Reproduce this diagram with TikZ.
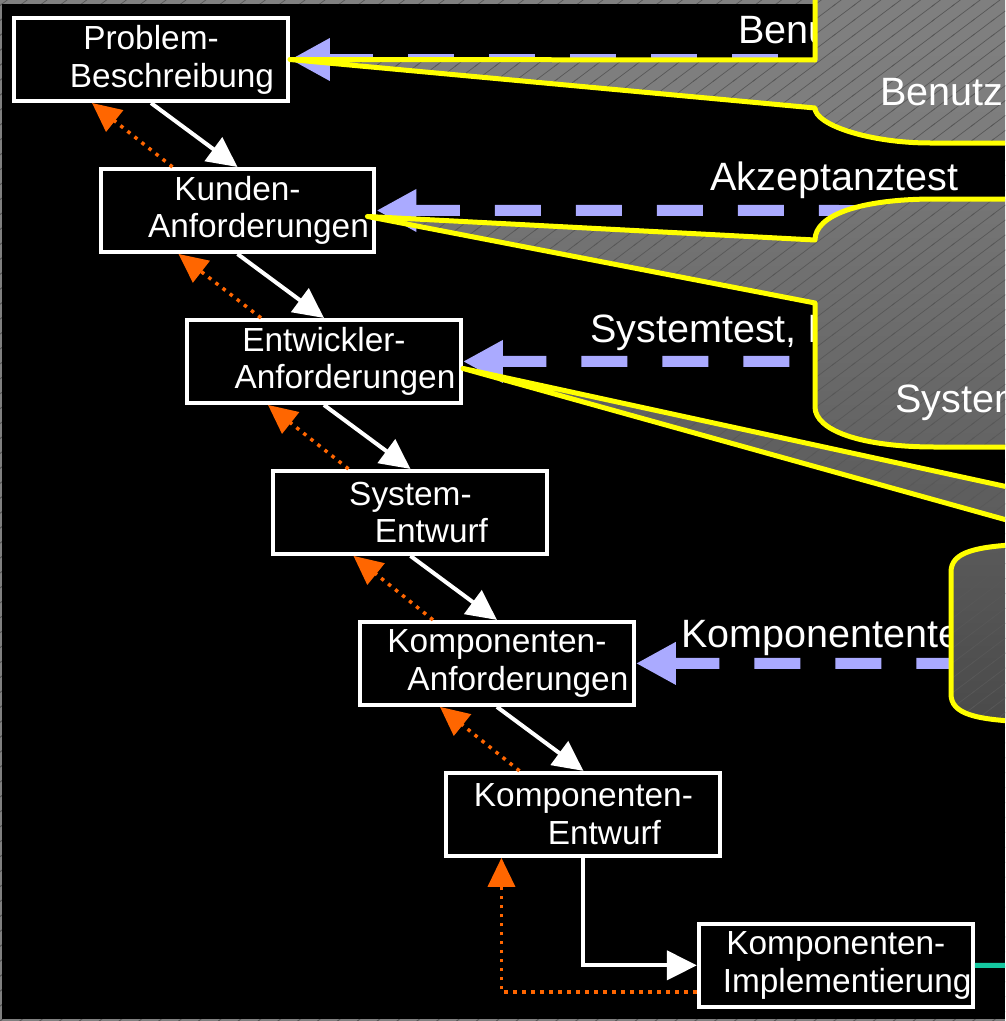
\documentclass[tikz,border=0pt]{standalone}
\usepackage{fontspec}
\setmainfont{Liberation Sans}
\usetikzlibrary{arrows.meta, positioning, calc, patterns}

\definecolor{lavender}{RGB}{170,170,255}
\definecolor{dotorange}{RGB}{255,102,0}
\definecolor{bubbleyellow}{RGB}{255,255,0}
\definecolor{hatchgray}{RGB}{88,88,88}
\definecolor{framegray}{RGB}{128,128,128}
\definecolor{tealline}{RGB}{20,200,160}

\pgfdeclarepatternformonly{hatch}{\pgfqpoint{-1pt}{-1pt}}{\pgfqpoint{12.3pt}{9.5pt}}{\pgfqpoint{11.3pt}{8.5pt}}{%
  \pgfsetlinewidth{0.4pt}%
  \pgfpathmoveto{\pgfqpoint{-1.13pt}{-0.85pt}}%
  \pgfpathlineto{\pgfqpoint{12.43pt}{9.35pt}}%
  \pgfusepath{stroke}}

\begin{document}
\begin{tikzpicture}[
        x=0.02cm, y=-0.02cm,
        node distance=1.28cm,
        box/.style={rectangle, draw=white, line width=0.08cm, fill=black, text=white, minimum width=5.48cm, minimum height=1.66cm, text width=5.48cm, inner xsep=0pt, inner ysep=0pt, align=center, font=\fontsize{19}{21.5}\selectfont},
        arrow/.style={-{Triangle[length=0.6cm, width=0.58cm]}, white, line width=0.08cm},
        back/.style={-{Triangle[length=0.58cm, width=0.54cm]}, dotorange, line width=0.07cm, dash pattern=on 0.07cm off 0.11cm},
        test/.style={{Triangle[length=0.8cm, width=0.8cm]}-, lavender, line width=0.22cm, dash pattern=on 0.92cm off 0.7cm},
        tag/.style={text=white, inner sep=0pt, anchor=base west, font=\fontsize{22.5}{26}\selectfont},
        callout/.style={preaction={pattern=hatch, pattern color=hatchgray}, draw=bubbleyellow, line width=0.1cm, line join=round}
    ]

        % 0. Slide frame
        \useasboundingbox (0,0) rectangle (1005,1021);
        \clip (0,0) rectangle (1005,1021);
        \fill [framegray, postaction={pattern=hatch, pattern color=hatchgray}] (0,0) rectangle (1005,1021);
        \fill [black] (2,4) rectangle (1005,1019);

        % 1. Phases
        \node (problem) [box] at (151,59.5) {Problem-\\\hspace*{0.84cm}Beschreibung};
        \node (kunden) [box, below=of problem, xshift=1.73cm] {Kunden-\\\hspace*{0.84cm}Anforderungen};
        \node (entw) [box, below=of kunden, xshift=1.73cm] {Entwickler-\\\hspace*{0.84cm}Anforderungen};
        \node (sysent) [box, below=of entw, xshift=1.73cm] {System-\\\hspace*{0.84cm}Entwurf};
        \node (kanf) [box, below=of sysent, xshift=1.73cm] {Komponenten-\\\hspace*{0.84cm}Anforderungen};
        \node (kentw) [box, below=of kanf, xshift=1.73cm] {Komponenten-\\\hspace*{0.84cm}Entwurf};
        \node (kimpl) [box, below=of kentw, xshift=5.05cm] {Komponenten-\\\hspace*{0.45cm}Implementierung};

        % 2. Forward steps
        \draw [arrow] (problem.south) -- (kunden.north);
        \draw [arrow] (kunden.south) -- (entw.north);
        \draw [arrow] (entw.south) -- (sysent.north);
        \draw [arrow] (sysent.south) -- (kanf.north);
        \draw [arrow] (kanf.south) -- (kentw.north);
        \draw [arrow] (kentw.south) |- (kimpl.west);

        % 3. Feedback
        \draw [back] ($(kunden.north west)+(74,0)$) -- ($(problem.south west)+(80,0)$);
        \draw [back] ($(entw.north west)+(76,0)$) -- ($(kunden.south west)+(80,0)$);
        \draw [back] ($(sysent.north west)+(77,0)$) -- ($(entw.south west)+(83,0)$);
        \draw [back] ($(kanf.north west)+(75,0)$) -- ($(sysent.south west)+(82,0)$);
        \draw [back] ($(kentw.north west)+(75,0)$) -- ($(kanf.south west)+(82,0)$);
        \draw [back] ($(kimpl.south west)+(0,-17)$) -| ($(kentw.south west)+(57,0)$);

        % 4. Tests
        \coordinate (ct1) at (900,59.5);
        \coordinate (ct2) at (900,210.5);
        \coordinate (ct3) at (900,361.5);
        \coordinate (ct4) at (1000,663.5);
        \draw [test] (problem.east) -- (ct1);
        \draw [test] (kunden.east) -- (ct2);
        \draw [test] (entw.east) -- (ct3);
        \draw [test] (kanf.east) -- (ct4);
        \node (lben) [tag] at (738,43) {Benu};
        \node (lakz) [tag] at (710,190) {Akzeptanztest};
        \node (lsys) [tag] at (590,342) {Systemtest, I};
        \node (lkomp) [tag] at (681,647) {Komponentente};

        % 5. Callouts
        \draw [preaction={top color=framegray, bottom color=black!51}, callout]
            (problem.east) -- (815,60) -- (815,-30) -- (1060,-30) -- (1060,143) -- (930,143)
            .. controls (870,143) and (815,125) .. (815,108) -- cycle;
        \draw [preaction={top color=black!54, bottom color=black!61}, callout]
            ($(kunden.east)+(-9,6)$) -- (815,240) .. controls (815,215) and (860,199) .. (935,199)
            -- (1060,199) -- (1060,447) -- (935,447) .. controls (860,447) and (815,430) .. (815,407)
            -- (815,303) -- cycle;
        \draw [preaction={top color=black!61, bottom color=black!64}, callout]
            ($(entw.east)+(0,7)$) -- (1100,507) -- (1100,546) -- cycle;
        \draw [preaction={top color=black!65, bottom color=black!71}, callout]
            (951,572) .. controls (951,552) and (975,546) .. (1030,544) -- (1060,544) -- (1060,722)
            -- (1030,722) .. controls (975,720) and (951,714) .. (951,694) -- cycle;
        \node (tben) [tag] at (880,105) {Benutz};
        \node (tsys) [tag] at (895,412) {System};

        % 6. Link to the right
        \coordinate (rim) at (1010,965.5);
        \draw [tealline, line width=0.1cm] (kimpl.east) -- (rim);
    \end{tikzpicture}
\end{document}
